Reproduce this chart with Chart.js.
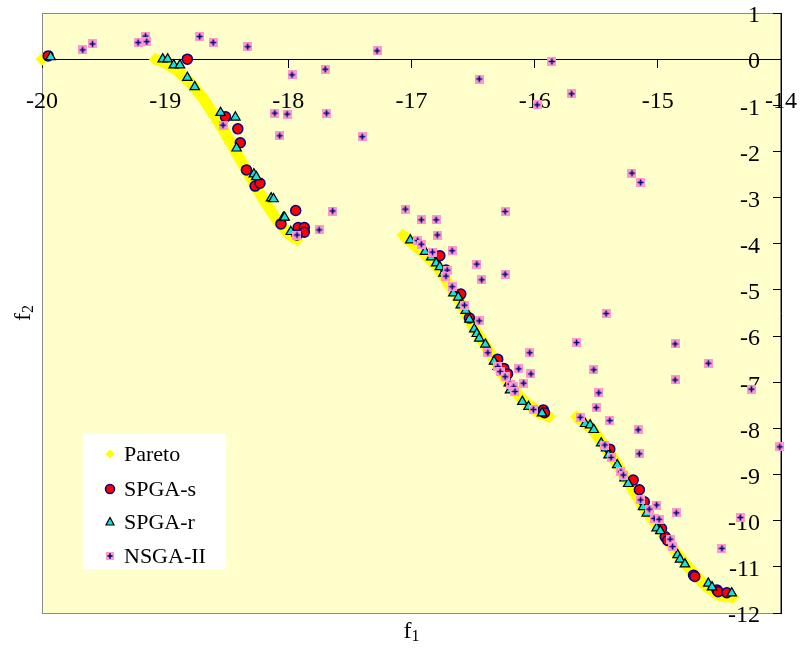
<!DOCTYPE html>
<html>
<head>
<meta charset="utf-8">
<script src="https://cdn.jsdelivr.net/npm/chart.js@4/dist/chart.umd.min.js"></script>
<style>html,body{margin:0;padding:0;background:#fff;}canvas{display:block;}</style>
</head>
<body>
<canvas id="c" width="801" height="649"></canvas>
<script>
// ---- data ----
const seriesNames = ['Pareto', 'SPGA-s', 'SPGA-r', 'NSGA-II'];

// Pareto front (null = gap between disconnected pieces)
const paretoX = [-20.0, null,
  -19.08, -19.0, -18.9, -18.8, -18.7, -18.6, -18.5, -18.4, -18.3, -18.2, -18.1, -18.0, -17.93, null,
  -17.07, -16.9, -16.77, -16.63, -16.5, -16.36, -16.23, -16.1, -15.96, -15.88, null,
  -15.66, -15.53, -15.39, -15.25, -15.12, -14.98, -14.85, -14.71, -14.6, -14.5, -14.39];
const paretoY = [0.0, null,
  0.0, -0.08, -0.25, -0.5, -0.82, -1.22, -1.66, -2.13, -2.6, -3.05, -3.45, -3.78, -3.92, null,
  -3.81, -4.2, -4.57, -5.15, -5.8, -6.37, -6.95, -7.38, -7.67, -7.75, null,
  -7.75, -8.03, -8.53, -9.12, -9.7, -10.2, -10.7, -11.14, -11.44, -11.62, -11.66];

const spgaSX = [-19.95, -18.82, -18.51, -18.41, -18.39, -18.34, -18.27, -18.23, -18.06, -17.94, -17.92, -17.87, -17.87, -17.93,
  -16.77, -16.72, -16.6, -16.53, -16.3, -16.25, -16.22, -15.93, -15.92,
  -15.39, -15.2, -15.15, -15.11, -14.97, -14.94, -14.92, -14.71, -14.7, -14.52, -14.51, -14.44];
const spgaSY = [0.07, 0.0, -1.25, -1.51, -1.81, -2.4, -2.75, -2.69, -3.57, -3.28, -3.65, -3.65, -3.75, -3.81,
  -4.26, -4.57, -5.09, -5.61, -6.5, -6.7, -6.82, -7.6, -7.66,
  -8.45, -9.12, -9.33, -9.59, -10.17, -10.35, -10.43, -11.18, -11.21, -11.5, -11.54, -11.56];

const spgaRX = [-19.93, -19.02, -18.98, -18.93, -18.88, -18.82, -18.76, -18.55, -18.43, -18.42, -18.28, -18.26, -18.14, -18.12, -18.04, -18.03, -17.98,
  -17.01, -16.89, -16.84, -16.8, -16.77, -16.74, -16.66, -16.62, -16.6, -16.56, -16.53, -16.49, -16.47, -16.45, -16.4, -16.33, -16.3, -16.21, -16.2, -16.1, -16.05, -15.94,
  -15.59, -15.55, -15.52, -15.46, -15.42, -15.4, -15.33, -15.27, -15.24, -15.12, -15.09, -15.01, -14.98, -14.84, -14.82, -14.78, -14.59, -14.56, -14.4];
const spgaRY = [0.05, 0.0, 0.0, -0.13, -0.13, -0.4, -0.6, -1.16, -1.26, -1.93, -2.49, -2.55, -3.01, -3.03, -3.43, -3.43, -3.74,
  -3.92, -4.17, -4.29, -4.42, -4.5, -4.64, -5.07, -5.16, -5.33, -5.45, -5.64, -5.85, -5.95, -6.05, -6.18, -6.55, -6.66, -7.02, -7.17, -7.42, -7.53, -7.67,
  -7.9, -7.93, -8.03, -8.32, -8.43, -8.58, -8.79, -9.08, -9.2, -9.7, -9.84, -10.16, -10.22, -10.74, -10.84, -10.94, -11.36, -11.44, -11.57];

const nsgaX = [-19.67, -19.59, -19.22, -19.16, -19.15, -18.72, -18.61, -18.33, -17.97, -17.7, -17.28, -18.11, -18.01, -17.69, -18.53,
  -16.45, -15.86, -15.7, -15.98, -18.07, -17.4, -17.64, -17.75, -17.93, -17.05, -15.21, -15.14,
  -16.92, -16.8, -16.24, -16.79, -16.95, -16.92, -16.67, -16.83, -16.47, -16.24, -16.43, -16.71, -16.72, -16.67, -16.57, -16.45,
  -16.38, -16.04, -16.3, -16.13, -16.03, -16.28, -16.24, -16.2, -16.09, -16.17, -16.16, -16.01,
  -15.42, -15.66, -14.86, -14.59, -15.52, -14.86, -14.24, -15.48, -15.5, -15.63, -15.39, -15.16, -14.01, -15.43, -15.15, -15.38,
  -15.3, -15.28, -15.14, -15.01, -15.07, -14.85, -15.03, -14.99, -14.33, -14.9, -14.88, -14.48];
const nsgaY = [0.2, 0.33, 0.36, 0.5, 0.38, 0.49, 0.36, 0.27, -0.34, -0.22, 0.18, -1.17, -1.19, -1.17, -1.43,
  -0.43, -0.05, -0.75, -0.99, -1.66, -1.68, -3.29, -3.7, -3.81, -3.25, -2.47, -2.67,
  -3.48, -3.48, -3.3, -3.81, -3.93, -4.01, -4.15, -4.18, -4.44, -4.66, -4.78, -4.57, -4.7, -4.93, -5.33, -5.67,
  -6.36, -6.36, -6.66, -6.71, -6.82, -6.77, -6.88, -7.04, -7.02, -7.1, -7.2, -7.59,
  -5.51, -6.14, -6.17, -6.59, -6.73, -6.95, -7.15, -7.23, -7.55, -7.76, -7.83, -8.03, -8.4, -8.36, -8.55, -8.63,
  -8.94, -9.01, -9.55, -9.66, -9.75, -9.83, -9.95, -9.97, -9.93, -10.4, -10.56, -10.6];

const xMin = -20, xMax = -14, yMin = -12, yMax = 1;
const xTitle = ['f', '1'];
const yTitle = ['f', '2'];

// ---- styling ----
const FONT = "'Liberation Serif', 'Times New Roman', serif";
const C_YELLOW = '#FFFF00', C_RED = '#FF0000', C_NAVY = '#000080', C_CYAN = '#19E0E0', C_PINK = '#FF99CC';
const Y_LABEL_GAP = 21; // distance of y tick labels from the axis line (labels sit inside the plot)

function toPts(xs, ys) { return xs.map((x, i) => ({x: x === null ? NaN : x, y: ys[i]})); }

function makeNsgaMarker(s) {
  const c = document.createElement('canvas');
  c.width = s; c.height = s;
  const g = c.getContext('2d');
  g.fillStyle = C_PINK; g.fillRect(0, 0, s, s);
  g.strokeStyle = C_NAVY; g.lineWidth = 1.6;
  const m = s / 2, r = s * 0.33;
  g.beginPath();
  g.moveTo(m - r, m); g.lineTo(m + r, m);
  g.moveTo(m, m - r); g.lineTo(m, m + r);
  g.stroke();
  return c;
}
const nsgaMarker = makeNsgaMarker(9);
const nsgaLegendMarker = makeNsgaMarker(8);

function zeroPadding(scale) {
  scale.paddingLeft = 0; scale.paddingRight = 0; scale.paddingTop = 0; scale.paddingBottom = 0;
}

const plotBg = {
  id: 'plotBg',
  beforeDraw(chart) {
    const {ctx, chartArea: a} = chart;
    ctx.save();
    ctx.fillStyle = '#FFFFCC';
    ctx.fillRect(a.left, a.top, a.right - a.left, a.bottom - a.top);
    ctx.strokeStyle = '#8a8a8a';
    ctx.lineWidth = 1;
    ctx.strokeRect(Math.round(a.left) + 0.5, Math.round(a.top) + 0.5, Math.round(a.right - a.left) - 1, Math.round(a.bottom - a.top));
    ctx.restore();
    // place y tick labels to the left of the (right-hand) axis, inside the plot
    const s = chart.scales.y;
    if (s && s.getLabelItems) {
      const items = s.getLabelItems(a);
      if (items && !items._shifted) {
        items.forEach(it => { if (it.options && it.options.translation) it.options.translation[0] -= Y_LABEL_GAP; });
        items._shifted = true;
      }
    }
  }
};

const legendAndTitles = {
  id: 'legendAndTitles',
  afterDraw(chart) {
    const ctx = chart.ctx;
    ctx.save();
    // legend box
    const bx = 83, by = 434, bw = 143, bh = 135;
    ctx.fillStyle = '#FFFFFF';
    ctx.fillRect(bx, by, bw, bh);
    const rows = [454, 489, 522, 556];
    const mx = 110;
    ctx.font = '22px ' + FONT;
    ctx.textBaseline = 'middle';
    ctx.textAlign = 'left';
    seriesNames.forEach((name, i) => {
      const y = rows[i];
      if (i === 0) {
        ctx.fillStyle = C_YELLOW;
        ctx.beginPath();
        ctx.moveTo(mx, y - 4.5); ctx.lineTo(mx + 4.5, y); ctx.lineTo(mx, y + 4.5); ctx.lineTo(mx - 4.5, y);
        ctx.closePath(); ctx.fill();
      } else if (i === 1) {
        ctx.fillStyle = C_RED; ctx.strokeStyle = C_NAVY; ctx.lineWidth = 1.5;
        ctx.beginPath(); ctx.arc(mx, y, 4.5, 0, Math.PI * 2); ctx.fill(); ctx.stroke();
      } else if (i === 2) {
        ctx.fillStyle = C_CYAN; ctx.strokeStyle = '#000'; ctx.lineWidth = 1.2;
        ctx.beginPath();
        ctx.moveTo(mx, y - 4.5); ctx.lineTo(mx + 4, y + 3); ctx.lineTo(mx - 4, y + 3);
        ctx.closePath(); ctx.fill(); ctx.stroke();
      } else {
        ctx.drawImage(nsgaLegendMarker, mx - 4, y - 4);
      }
      ctx.fillStyle = '#000';
      ctx.fillText(name, 124, y + 1);
    });

    // axis titles (f with subscript)
    ctx.fillStyle = '#000';
    ctx.textBaseline = 'alphabetic';
    ctx.textAlign = 'left';
    const big = '24px ' + FONT, small = '16px ' + FONT;
    function drawSub(parts, cx, baseY) {
      ctx.font = big; const w1 = ctx.measureText(parts[0]).width;
      ctx.font = small; const w2 = ctx.measureText(parts[1]).width;
      const x0 = cx - (w1 + w2) / 2;
      ctx.font = big; ctx.fillText(parts[0], x0, baseY);
      ctx.font = small; ctx.fillText(parts[1], x0 + w1, baseY + 3);
    }
    const a = chart.chartArea;
    drawSub(xTitle, (a.left + a.right) / 2, 638);
    ctx.save();
    ctx.translate(30, (a.top + a.bottom) / 2);
    ctx.rotate(-Math.PI / 2);
    drawSub(yTitle, 0, 0);
    ctx.restore();
    ctx.restore();
  }
};

Chart.defaults.font.family = FONT;
Chart.defaults.color = '#000';

new Chart(document.getElementById('c'), {
  type: 'scatter',
  data: {
    datasets: [
      {
        label: seriesNames[0], data: toPts(paretoX, paretoY), showLine: true, spanGaps: false,
        borderColor: C_YELLOW, borderWidth: 11, borderJoinStyle: 'round', borderCapStyle: 'butt',
        pointStyle: 'rectRot', pointRadius: 6.5, pointBackgroundColor: C_YELLOW, pointBorderWidth: 0,
        order: 4, clip: false
      },
      {
        label: seriesNames[1], data: toPts(spgaSX, spgaSY), pointStyle: 'circle', pointRadius: 5,
        pointBackgroundColor: C_RED, pointBorderColor: C_NAVY, pointBorderWidth: 1.5, order: 3, clip: false
      },
      {
        label: seriesNames[2], data: toPts(spgaRX, spgaRY), pointStyle: 'triangle', pointRadius: 5.5,
        pointBackgroundColor: C_CYAN, pointBorderColor: '#000', pointBorderWidth: 1.2, order: 2, clip: false
      },
      {
        label: seriesNames[3], data: toPts(nsgaX, nsgaY), pointStyle: nsgaMarker, pointRadius: 5,
        order: 1, clip: false
      }
    ]
  },
  options: {
    responsive: false,
    animation: false,
    events: [],
    layout: {autoPadding: false, padding: {left: 42, right: 20, top: 13, bottom: 36}},
    plugins: {legend: {display: false}, tooltip: {enabled: false}},
    scales: {
      x: {
        type: 'linear', min: xMin, max: xMax, position: {y: 0},
        afterFit: zeroPadding,
        grid: {drawOnChartArea: false, drawTicks: true, tickLength: 8, color: '#000', lineWidth: 1},
        border: {display: true, color: '#000', width: 1},
        ticks: {stepSize: 1, autoSkip: false, maxRotation: 0, padding: 20, font: {size: 24, family: FONT}, color: '#000'}
      },
      y: {
        type: 'linear', min: yMin, max: yMax, position: {x: -14},
        afterFit: zeroPadding,
        grid: {drawOnChartArea: false, drawTicks: true, tickLength: 8, color: '#000', lineWidth: 1},
        border: {display: true, color: '#000', width: 1},
        ticks: {stepSize: 1, autoSkip: false, padding: 13, labelOffset: 3, font: {size: 24, family: FONT}, color: '#000'}
      }
    }
  },
  plugins: [plotBg, legendAndTitles]
});
</script>
</body>
</html>
